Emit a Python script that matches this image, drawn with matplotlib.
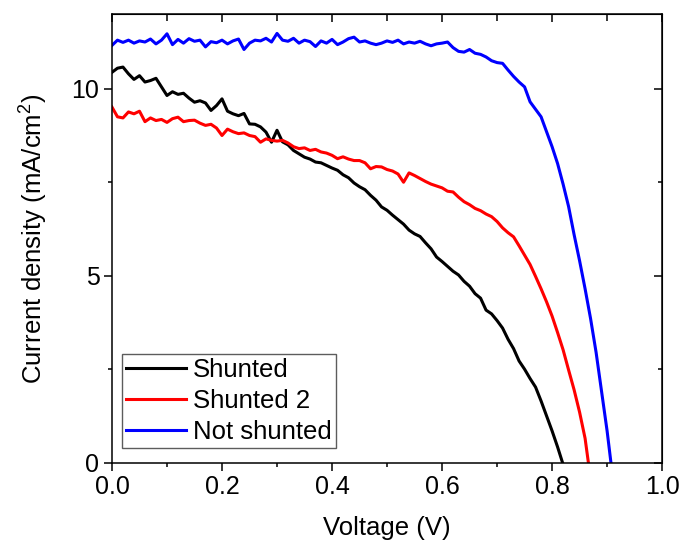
import matplotlib
matplotlib.use("Agg")
import matplotlib.pyplot as plt
import numpy as np

plt.rcParams['font.family'] = ['Liberation Sans', 'DejaVu Sans']
plt.rcParams['mathtext.fontset'] = 'custom'
plt.rcParams['mathtext.rm'] = 'Liberation Sans'

# Shunted (black)
v_black = [0.00, 0.01, 0.02, 0.03, 0.04, 0.05, 0.06, 0.07, 0.08, 0.09,
           0.10, 0.11, 0.12, 0.13, 0.14, 0.15, 0.16, 0.17, 0.18, 0.19,
           0.20, 0.21, 0.22, 0.23, 0.24, 0.25, 0.26, 0.27, 0.28, 0.29,
           0.30, 0.31, 0.32, 0.33, 0.34, 0.35, 0.36, 0.37, 0.38, 0.39,
           0.40, 0.41, 0.42, 0.43, 0.44, 0.45, 0.46, 0.47, 0.48, 0.49,
           0.50, 0.51, 0.52, 0.53, 0.54, 0.55, 0.56, 0.57, 0.58, 0.59,
           0.60, 0.61, 0.62, 0.63, 0.64, 0.65, 0.66, 0.67, 0.68, 0.69,
           0.70, 0.71, 0.72, 0.73, 0.74, 0.75, 0.76, 0.77, 0.78, 0.79,
           0.80, 0.81, 0.819]
j_black = [10.44, 10.55, 10.58, 10.40, 10.25, 10.35, 10.18, 10.22, 10.28, 10.05,
           9.82, 9.92, 9.85, 9.88, 9.75, 9.64, 9.68, 9.62, 9.42, 9.55,
           9.73, 9.40, 9.33, 9.28, 9.34, 9.06, 9.05, 8.98, 8.84, 8.57,
           8.89, 8.58, 8.50, 8.35, 8.26, 8.17, 8.12, 8.04, 8.02, 7.95,
           7.88, 7.82, 7.70, 7.62, 7.48, 7.38, 7.30, 7.15, 7.02, 6.84,
           6.75, 6.62, 6.50, 6.38, 6.22, 6.12, 6.05, 5.88, 5.72, 5.50,
           5.38, 5.25, 5.12, 5.02, 4.85, 4.72, 4.52, 4.40, 4.08, 3.98,
           3.80, 3.60, 3.30, 3.05, 2.72, 2.50, 2.25, 2.02, 1.65, 1.25,
           0.85, 0.42, 0.0]

# Shunted 2 (red)
v_red = [0.00, 0.01, 0.02, 0.03, 0.04, 0.05, 0.06, 0.07, 0.08, 0.09,
         0.10, 0.11, 0.12, 0.13, 0.14, 0.15, 0.16, 0.17, 0.18, 0.19,
         0.20, 0.21, 0.22, 0.23, 0.24, 0.25, 0.26, 0.27, 0.28, 0.29,
         0.30, 0.31, 0.32, 0.33, 0.34, 0.35, 0.36, 0.37, 0.38, 0.39,
         0.40, 0.41, 0.42, 0.43, 0.44, 0.45, 0.46, 0.47, 0.48, 0.49,
         0.50, 0.51, 0.52, 0.53, 0.54, 0.55, 0.56, 0.57, 0.58, 0.59,
         0.60, 0.61, 0.62, 0.63, 0.64, 0.65, 0.66, 0.67, 0.68, 0.69,
         0.70, 0.71, 0.72, 0.73, 0.74, 0.75, 0.76, 0.77, 0.78, 0.79,
         0.80, 0.81, 0.82, 0.83, 0.84, 0.85, 0.86, 0.866]
j_red = [9.51, 9.25, 9.22, 9.38, 9.33, 9.40, 9.12, 9.22, 9.15, 9.18,
         9.10, 9.20, 9.24, 9.12, 9.15, 9.16, 9.08, 9.02, 9.05, 8.95,
         8.75, 8.92, 8.85, 8.80, 8.82, 8.75, 8.72, 8.57, 8.66, 8.62,
         8.60, 8.62, 8.55, 8.45, 8.40, 8.42, 8.35, 8.38, 8.31, 8.28,
         8.22, 8.13, 8.18, 8.12, 8.08, 8.08, 8.02, 7.86, 7.92, 7.91,
         7.84, 7.80, 7.72, 7.50, 7.75, 7.68, 7.60, 7.52, 7.45, 7.40,
         7.35, 7.26, 7.24, 7.10, 6.98, 6.90, 6.80, 6.74, 6.65, 6.58,
         6.45, 6.28, 6.15, 6.04, 5.80, 5.55, 5.30, 4.98, 4.65, 4.30,
         3.92, 3.48, 3.02, 2.48, 1.95, 1.35, 0.65, 0.0]

# Not shunted (blue)
v_blue = [0.00, 0.01, 0.02, 0.03, 0.04, 0.05, 0.06, 0.07, 0.08, 0.09,
          0.10, 0.11, 0.12, 0.13, 0.14, 0.15, 0.16, 0.17, 0.18, 0.19,
          0.20, 0.21, 0.22, 0.23, 0.24, 0.25, 0.26, 0.27, 0.28, 0.29,
          0.30, 0.31, 0.32, 0.33, 0.34, 0.35, 0.36, 0.37, 0.38, 0.39,
          0.40, 0.41, 0.42, 0.43, 0.44, 0.45, 0.46, 0.47, 0.48, 0.49,
          0.50, 0.51, 0.52, 0.53, 0.54, 0.55, 0.56, 0.57, 0.58, 0.59,
          0.60, 0.61, 0.62, 0.63, 0.64, 0.65, 0.66, 0.67, 0.68, 0.69,
          0.70, 0.71, 0.72, 0.73, 0.74, 0.75, 0.76, 0.77, 0.78, 0.79,
          0.80, 0.81, 0.82, 0.83, 0.84, 0.85, 0.86, 0.87, 0.88, 0.89,
          0.90, 0.907]
j_blue = [11.16, 11.30, 11.24, 11.30, 11.22, 11.28, 11.25, 11.33, 11.20, 11.30,
          11.47, 11.18, 11.32, 11.22, 11.34, 11.27, 11.30, 11.12, 11.26, 11.23,
          11.30, 11.20, 11.28, 11.33, 11.05, 11.22, 11.30, 11.28, 11.35, 11.25,
          11.48, 11.30, 11.27, 11.35, 11.22, 11.30, 11.26, 11.13, 11.28, 11.22,
          11.32, 11.18, 11.25, 11.34, 11.38, 11.25, 11.28, 11.22, 11.18, 11.22,
          11.28, 11.24, 11.30, 11.20, 11.25, 11.22, 11.27, 11.20, 11.15, 11.20,
          11.22, 11.25, 11.10, 11.00, 10.98, 11.05, 10.95, 10.92, 10.85, 10.75,
          10.70, 10.68, 10.50, 10.33, 10.18, 10.05, 9.65, 9.45, 9.25, 8.85,
          8.45, 8.00, 7.45, 6.85, 6.10, 5.40, 4.65, 3.85, 2.95, 1.90,
          0.85, 0.0]

fig = plt.figure(figsize=(6.84, 5.46), dpi=100)
ax = fig.add_axes([0.1637, 0.1526, 0.8043, 0.8218])

ax.plot(v_black, j_black, color='black', lw=2.2, label='Shunted')
ax.plot(v_red, j_red, color='red', lw=2.2, label='Shunted 2')
ax.plot(v_blue, j_blue, color='blue', lw=2.2, label='Not shunted')

ax.set_xlim(0, 1.0)
ax.set_ylim(0, 12)
ax.set_xticks(np.arange(0, 1.01, 0.2))
ax.set_xticks(np.arange(0, 1.01, 0.1), minor=True)
ax.set_xticklabels(['0.0', '0.2', '0.4', '0.6', '0.8', '1.0'])
ax.set_yticks([0, 5, 10])
ax.set_yticks([0, 2.5, 5, 7.5, 10], minor=True)

for s in ax.spines.values():
    s.set_linewidth(1.1)
ax.tick_params(which='major', direction='out', length=5.5, width=1.1,
               labelsize=18, pad=3.5)
ax.tick_params(which='minor', direction='out', length=3, width=1.1)

# mirrored ticks on top and right, pointing in
top = ax.secondary_xaxis('top')
top.set_xticks(np.arange(0, 1.01, 0.2))
top.set_xticks(np.arange(0, 1.01, 0.1), minor=True)
top.tick_params(which='major', direction='in', length=5.5, width=1.1, labeltop=False)
top.tick_params(which='minor', direction='in', length=5, width=1.1)
right = ax.secondary_yaxis('right')
right.set_yticks([0, 5, 10])
right.set_yticks([0, 2.5, 5, 7.5, 10], minor=True)
right.tick_params(which='major', direction='in', length=5.5, width=1.1, labelright=False)
right.tick_params(which='minor', direction='in', length=3, width=1.1)

ax.set_xlabel('Voltage (V)', fontsize=18.5, labelpad=12)
ax.set_ylabel('Current density (mA/cm$^2$)', fontsize=18.5, labelpad=16)

leg = ax.legend(loc='lower left', bbox_to_anchor=(0.018, 0.033), fontsize=18.5,
                frameon=True, fancybox=False, handlelength=2.33,
                handletextpad=0.3, labelspacing=0.28, borderpad=0.15,
                borderaxespad=0.0)
leg.get_frame().set_edgecolor('#333333')
leg.get_frame().set_linewidth(1.0)

fig.savefig('out.png', dpi=100)
